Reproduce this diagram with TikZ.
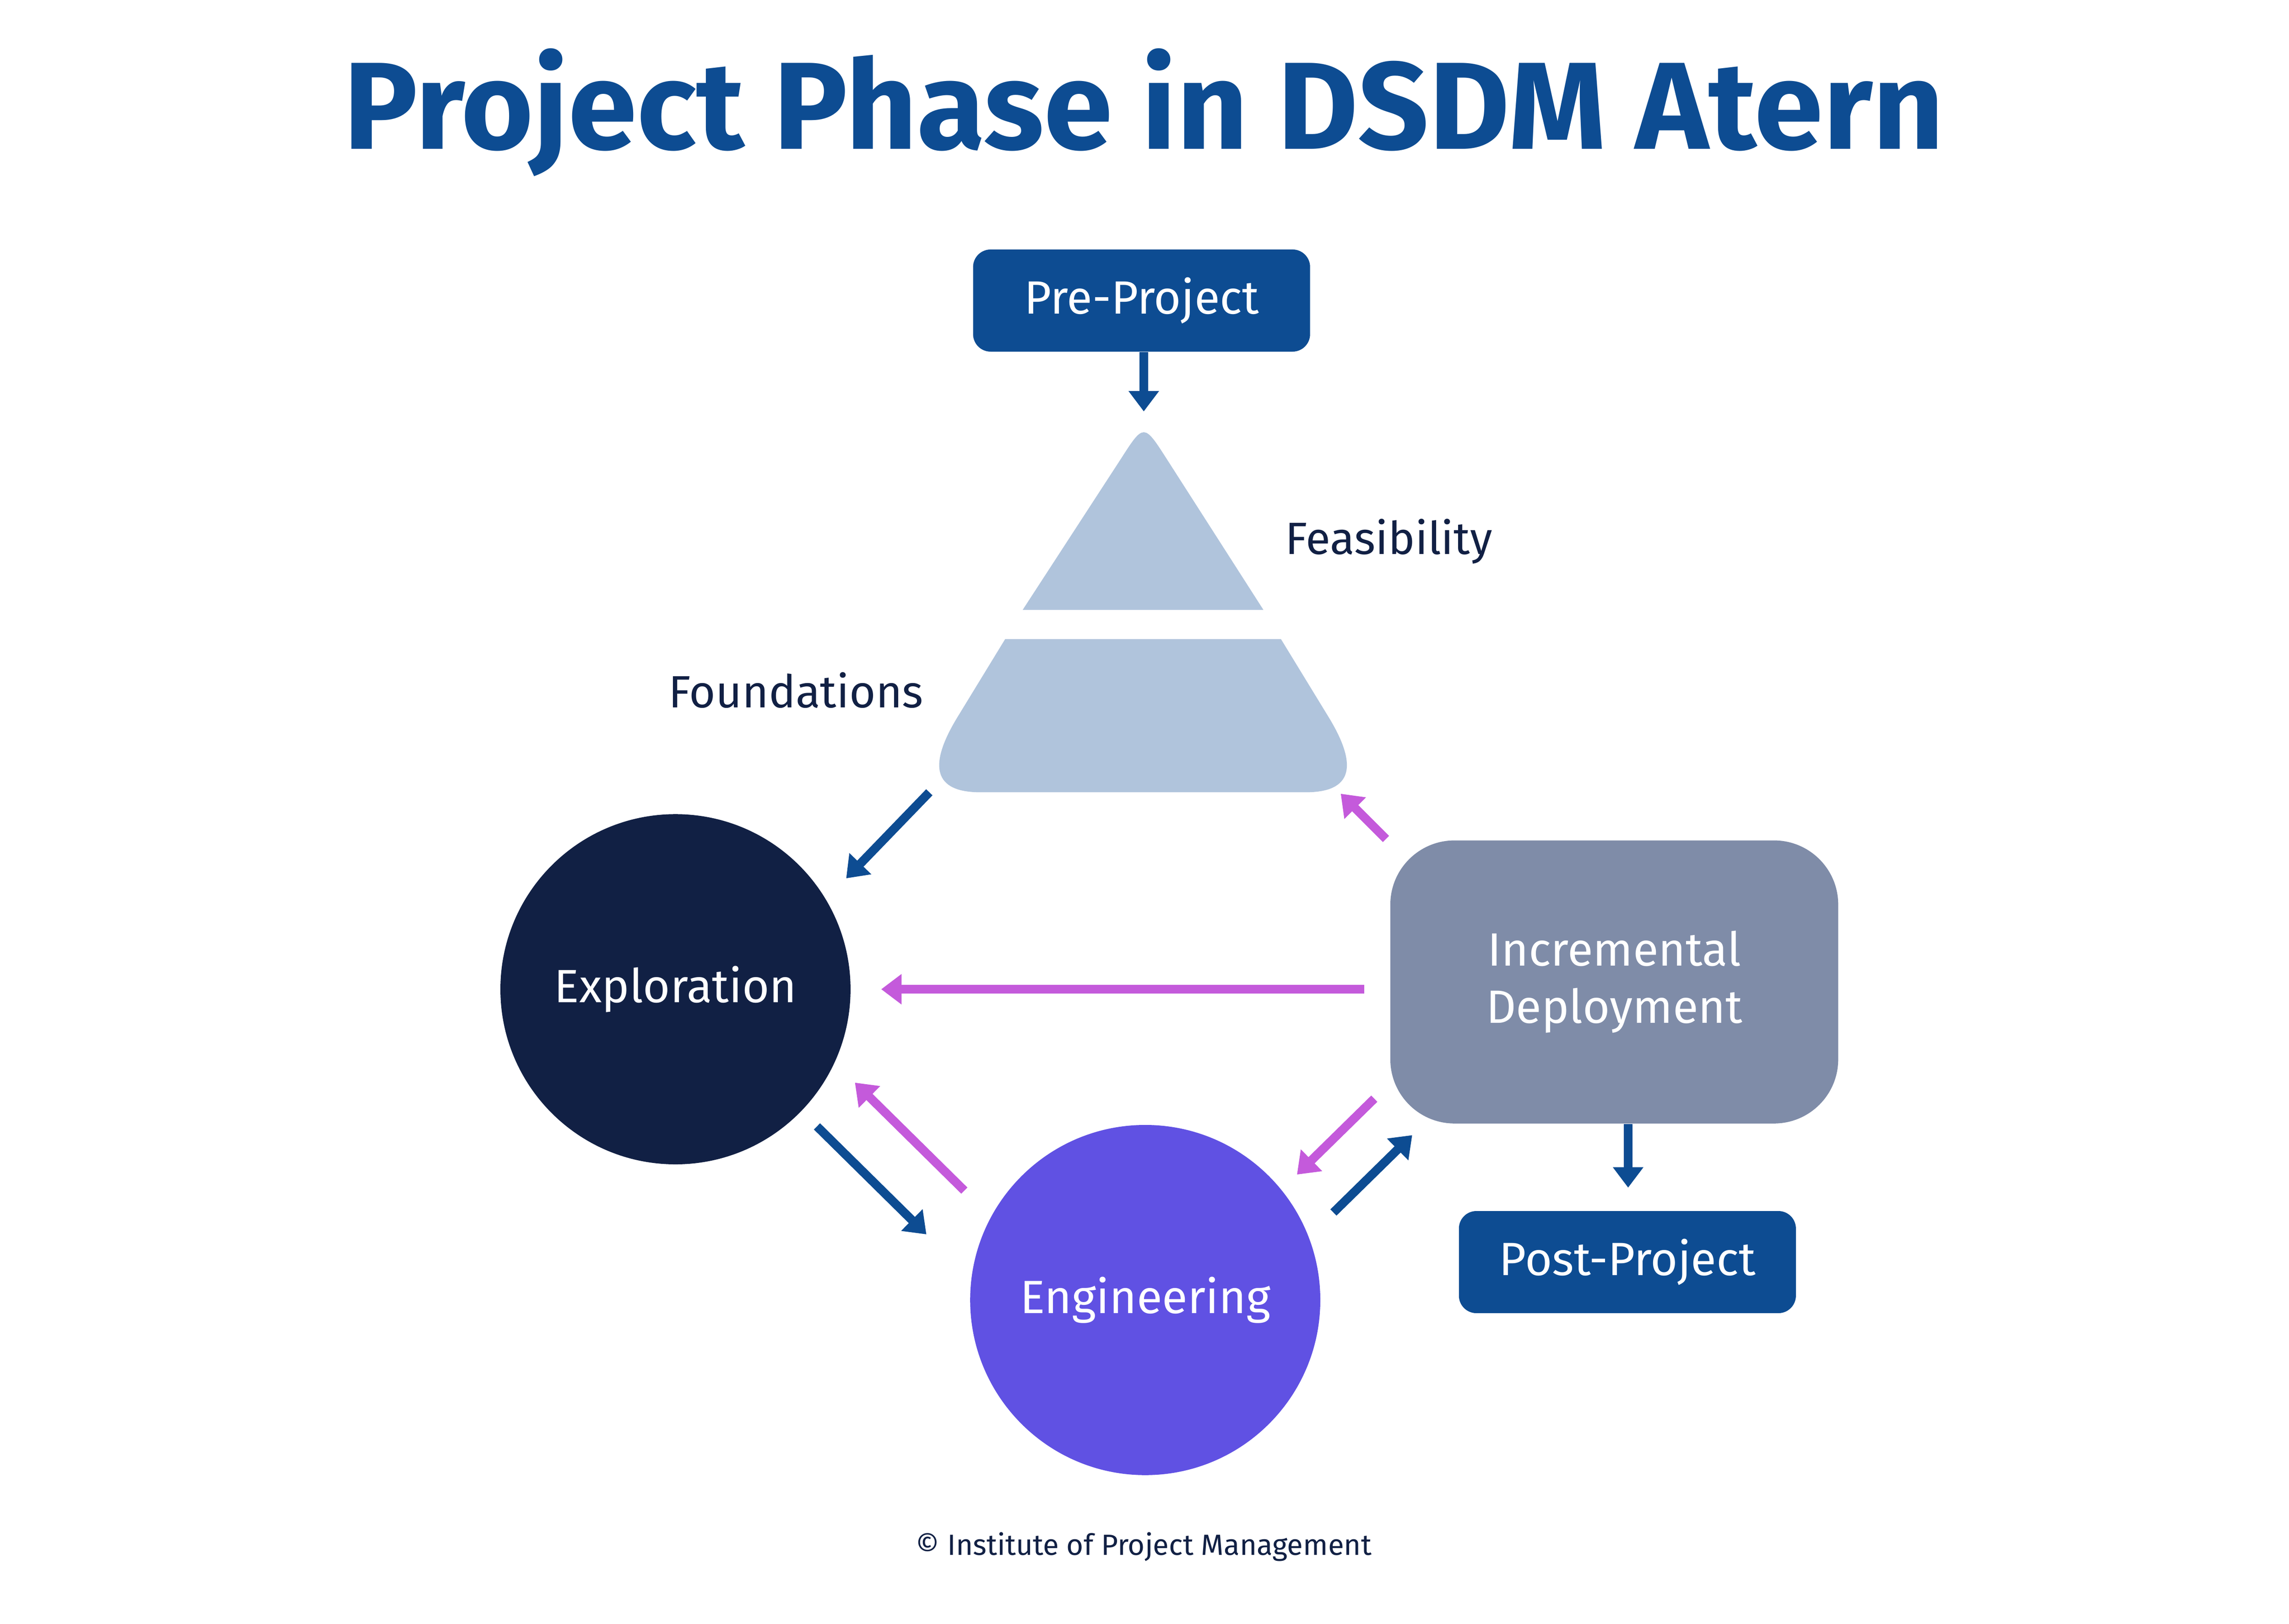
\documentclass[tikz,border=0pt]{standalone}
\usepackage{fontspec}
\setmainfont{Fira Sans}
\usetikzlibrary{arrows.meta}
\definecolor{tblue}{HTML}{0D4C92}
\definecolor{navy}{HTML}{112044}
\definecolor{pyr}{HTML}{B0C4DC}
\definecolor{eng}{HTML}{6051E3}
\definecolor{inc}{HTML}{7F8CA8}
\definecolor{mag}{HTML}{C45ADB}
\begin{document}
\begin{tikzpicture}[x=0.5pt,y=-0.5pt,
  box/.style={fill=tblue,rounded corners=6pt,text=white,font=\fontsize{16}{19}\selectfont,inner sep=0pt},
  lab/.style={text=navy,font=\fontsize{15.5}{19}\selectfont},
  barr/.style={draw=tblue,line width=3pt,-{Triangle[length=7pt,width=10pt]}},
  marr/.style={draw=mag,line width=3pt,-{Triangle[length=7pt,width=10pt]}}]
\useasboundingbox[fill=white] (0,0) rectangle (1569,1113);
\node[text=tblue,font=\fontsize{42.5}{48}\selectfont\bfseries] (title) at (784,77) {Project Phase in DSDM Atern};
\node[box,minimum width=115.5pt,minimum height=35pt] (pre) at (782.5,206) {Pre-Project};
\node[box,minimum width=115.5pt,minimum height=35pt] (post) at (1115.5,865) {Post-Project};
% pyramid
\fill[pyr] (701,418) -- (768,315) .. controls (784,290) .. (800,315) -- (866,418) -- cycle;
\fill[pyr] (689,438) -- (878,438) -- (911,492) .. controls (931,525) and (927,543) .. (895,543)
  -- (672,543) .. controls (640,543) and (636,525) .. (656,492) -- cycle;
\coordinate (ptop) at (784,282);
\node[lab,anchor=west] (feas) at (874,371) {Feasibility};
\node[lab,anchor=east] (found) at (640,473) {Foundations};
\node[circle,fill=navy,minimum size=120pt,text=white,font=\fontsize{16}{19}\selectfont] (expl) at (463,678) {Exploration};
\node[circle,fill=eng,minimum size=120pt,text=white,font=\fontsize{16}{19}\selectfont] (engn) at (785,891) {Engineering};
\node[fill=inc,rounded corners=22pt,minimum width=153.5pt,minimum height=97pt,text=white,align=center,font=\fontsize{16}{19.5}\selectfont] (incd) at (1106.5,673) {Incremental\\Deployment};
\node[text=navy,font=\fontsize{10}{12}\selectfont] (copy) at (784,1060) {© Institute of Project Management};
\coordinate (a1) at (637,543); \coordinate (a2) at (580,602);
\coordinate (b1) at (950,575); \coordinate (b2) at (919,544);
\coordinate (c1) at (935,678); \coordinate (c2) at (604,678);
\coordinate (d1) at (560,772); \coordinate (d2) at (635,846);
\coordinate (e1) at (661,816); \coordinate (e2) at (586,742);
\coordinate (f1) at (942,753); \coordinate (f2) at (889,805);
\coordinate (g1) at (914,831); \coordinate (g2) at (968,778);
\coordinate (h2) at (1116,814);
\draw[barr] (ptop |- pre.south) -- (ptop);
\draw[barr] (a1) -- (a2);
\draw[marr] (b1) -- (b2);
\draw[marr] (c1) -- (c2);
\draw[barr] (d1) -- (d2);
\draw[marr] (e1) -- (e2);
\draw[marr] (f1) -- (f2);
\draw[barr] (g1) -- (g2);
\draw[barr] (h2 |- incd.south) -- (h2);
\end{tikzpicture}
\end{document}
